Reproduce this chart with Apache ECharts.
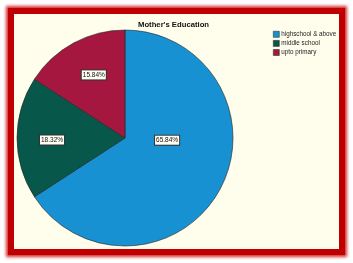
<!DOCTYPE html>
<html><head><meta charset="utf-8">
<script src="https://cdn.jsdelivr.net/npm/echarts@6/dist/echarts.min.js"></script>
<style>
html,body{margin:0;padding:0;background:#fff;width:353px;height:263px;overflow:hidden;}
#frame{position:absolute;left:8px;top:8px;width:325px;height:235px;border:6px solid #c00000;box-shadow:0 0 3px 2px #d43030;}
#chart{position:absolute;left:0;top:0;width:325px;height:235px;background:#fffeec;}
</style></head>
<body>
<div id="frame"><div id="chart"></div></div>
<script>
const categories = ['highschool & above', 'middle school', 'upto primary'];
const values = [65.84, 18.32, 15.84];
const colors = ['#1791d2', '#07574b', '#a5173f'];
const labelOffsets = [[-8, -25], [-16, 2], [-4, -13]];

const chart = echarts.init(document.getElementById('chart'));
chart.setOption({
  animation: false,
  title: {
    text: "Mother's Education", left: 119, top: 2,
    textStyle: {fontFamily: 'Liberation Sans, Arial', fontSize: 7.7, fontWeight: 'bold', color: '#111'}
  },
  legend: {
    orient: 'vertical', left: 254, top: 12, itemWidth: 6, itemHeight: 6, itemGap: 2.5,
    icon: 'rect',
    itemStyle: {borderColor: '#333', borderWidth: 0.6},
    textStyle: {fontFamily: 'Liberation Sans, Arial', fontSize: 6.3, color: '#222', padding: [0,0,0,-3]},
    data: categories
  },
  series: [{
    type: 'pie',
    center: [111, 124], radius: [0, 108],
    startAngle: 90, clockwise: true,
    label: {
      show: true, position: 'inside', formatter: p => p.value.toFixed(2) + '%',
      fontFamily: 'Liberation Sans, Arial', fontSize: 6.5, color: '#111',
      backgroundColor: '#fffef2', borderColor: '#333', borderWidth: 1, padding: [1, 1]
    },
    labelLayout: function (p) {
      const o = labelOffsets[p.dataIndex];
      return {dx: o[0], dy: o[1]};
    },
    itemStyle: {borderColor: '#222', borderWidth: 0.6},
    emphasis: {disabled: true},
    data: categories.map((c, i) => ({name: c, value: values[i], itemStyle: {color: colors[i]}}))
  }]
});
</script>
</body></html>
